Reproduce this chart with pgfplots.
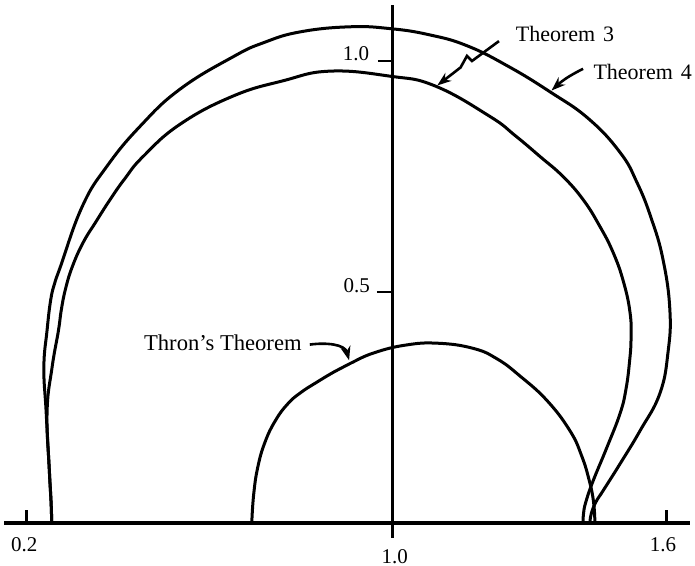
\documentclass[border=0pt]{standalone}
\usepackage{fontspec}
\setmainfont{Liberation Serif}
\usepackage{pgfplots}
\pgfplotsset{compat=1.18}
\usetikzlibrary{arrows.meta}

\begin{document}
\begin{tikzpicture}
\begin{axis}[
  hide axis, clip=false,
  x=228.5pt, y=231pt,
  xmin=0.142, xmax=1.663, ymin=-0.093, ymax=1.132,
]
% frame corners for the bounding box
\path (axis cs:0.142,-0.093) coordinate (ll) (axis cs:1.663,1.132) coordinate (ur);

% axes
\draw[line width=1.6pt] (axis cs:0.151,0) -- (axis cs:1.653,0);
\draw[line width=1.5pt] (axis cs:1,-0.032) -- (axis cs:1,1.121);
\draw[line width=1.4pt] (axis cs:0.2,0) -- (axis cs:0.2,0.027);
\draw[line width=1.4pt] (axis cs:1.6,0) -- (axis cs:1.6,0.027);
\draw[line width=1.4pt] (axis cs:0.967,0.5) -- (axis cs:1,0.5);
\draw[line width=1.4pt] (axis cs:0.969,1.0) -- (axis cs:1,1.0);

\node[font=\fontsize{10.5}{12}\selectfont] at (axis cs:0.195,-0.048) {0.2};
\node[font=\fontsize{10.5}{12}\selectfont] at (axis cs:1.006,-0.072) {1.0};
\node[font=\fontsize{10.5}{12}\selectfont] at (axis cs:1.593,-0.048) {1.6};
\node[font=\fontsize{10.5}{12}\selectfont] at (axis cs:0.921,1.015) {1.0};
\node[font=\fontsize{10.5}{12}\selectfont] at (axis cs:0.923,0.513) {0.5};

% Theorem 4
\addplot[black, line width=1.5pt, smooth, tension=0.75] coordinates {
(1.433,0) (1.436,0.02) (1.446,0.045) (1.462,0.07) (1.499,0.128) (1.543,0.2)
(1.586,0.28) (1.604,0.37) (1.608,0.461) (1.593,0.57) (1.567,0.66) (1.536,0.737)
(1.499,0.802) (1.43,0.875) (1.346,0.933) (1.255,0.988) (1.164,1.033) (1.08,1.057)
(0.996,1.07) (0.908,1.074) (0.799,1.063) (0.72,1.04) (0.652,1.009) (0.536,0.939)
(0.449,0.859) (0.376,0.772) (0.322,0.685) (0.274,0.554) (0.262,0.52) (0.253,0.483)
(0.245,0.417) (0.238,0.337) (0.243,0.24) (0.25,0.113) (0.254,0.04) (0.255,0)};

% Theorem 3
\addplot[black, line width=1.5pt, smooth, tension=0.75] coordinates {
(1.418,0) (1.419,0.02) (1.424,0.045) (1.44,0.091) (1.47,0.163) (1.499,0.237)
(1.512,0.29) (1.52,0.352) (1.523,0.40) (1.521,0.454) (1.507,0.52) (1.484,0.585)
(1.453,0.645) (1.418,0.70) (1.374,0.75) (1.324,0.793) (1.27,0.838) (1.214,0.88)
(1.094,0.946) (0.996,0.967) (0.864,0.978) (0.761,0.957) (0.652,0.924) (0.536,0.863)
(0.455,0.793) (0.415,0.745) (0.383,0.70) (0.352,0.652) (0.324,0.607) (0.30,0.554)
(0.285,0.505) (0.276,0.46) (0.27,0.417) (0.256,0.337) (0.245,0.24) (0.25,0.113)
(0.254,0.04) (0.255,0)};

% Thron's Theorem
\addplot[black, line width=1.5pt, smooth, tension=0.75] coordinates {
(0.693,0) (0.697,0.06) (0.706,0.12) (0.722,0.175) (0.745,0.222) (0.772,0.258)
(0.80,0.282) (0.836,0.305) (0.875,0.328) (0.908,0.345) (0.96,0.368) (1.03,0.385)
(1.10,0.389) (1.177,0.378) (1.23,0.355) (1.28,0.318) (1.339,0.265) (1.389,0.2)
(1.415,0.145) (1.432,0.09) (1.441,0.045) (1.444,0)};

% labels and pointers
\node[anchor=west, inner sep=0pt, font=\fontsize{11}{13}\selectfont] at (axis cs:1.270,1.058) {Theorem\hspace{4pt}3};
\node[anchor=west, inner sep=0pt, font=\fontsize{11}{13}\selectfont] at (axis cs:1.440,0.977) {Theorem\hspace{4pt}4};
\node[anchor=east, inner sep=0pt, font=\fontsize{11.3}{13}\selectfont] at (axis cs:0.803,0.389) {Thron's Theorem};

\draw[line width=1.3pt, -{Stealth[length=7pt,width=5pt]}]
  (axis cs:1.234,1.043) -- (axis cs:1.175,1.0) -- (axis cs:1.164,1.011)
  -- (axis cs:1.150,0.986) -- (axis cs:1.099,0.947);
\draw[line width=1.3pt, -{Stealth[length=7pt,width=5pt]}]
  (axis cs:1.418,0.983) to[bend right=8] (axis cs:1.349,0.936);
\draw[line width=1.3pt, -{Stealth[length=7pt,width=5pt]}]
  (axis cs:0.82,0.386) to[out=8,in=105] (axis cs:0.906,0.352);
\end{axis}
\pgfresetboundingbox
\path (ll) rectangle (ur);
\end{tikzpicture}
\end{document}
